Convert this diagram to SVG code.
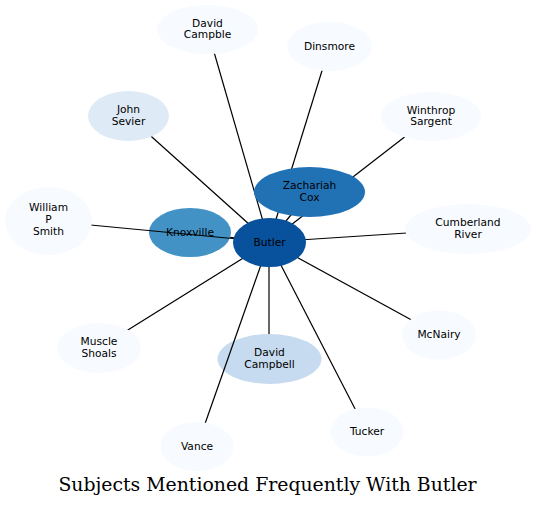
<svg xmlns="http://www.w3.org/2000/svg" width="536" height="507" viewBox="0 0 536 507">
<style>
.n text{font-family:"DejaVu Sans","Liberation Sans",sans-serif;font-size:10.67px;fill:#000;text-anchor:middle}
.e line{stroke:#000;stroke-width:1.2}
.title{font-family:"DejaVu Serif","Liberation Serif",serif;font-size:18.85px;fill:#000;text-anchor:middle}
.c0{fill:#f7fbff}.c1{fill:#deebf7}.c2{fill:#c6dbef}.c3{fill:#4292c6}.c4{fill:#2171b5}.c5{fill:#08519c}
</style>
<rect width="536" height="507" fill="#fff"/>
<g id="node-knoxville" class="n"><ellipse class="c3" cx="190" cy="232.5" rx="41" ry="24.5"/><text x="190" y="236">Knoxville</text></g>
<g id="node-david-campbell" class="n"><ellipse class="c2" cx="269.5" cy="359" rx="52" ry="25"/><text x="269.5" y="356">David</text><text x="269.5" y="367.8">Campbell</text></g>
<g id="connectors" class="e">
<line x1="269" y1="242" x2="207.5" y2="29.5"/>
<line x1="269" y1="242" x2="329.5" y2="46.5"/>
<line x1="269" y1="242" x2="128.5" y2="116"/>
<line x1="269" y1="242" x2="431" y2="116.5"/>
<line x1="269" y1="242" x2="309.5" y2="192"/>
<line x1="269" y1="242" x2="48.5" y2="221"/>
<line x1="269" y1="242" x2="230.2" y2="237.3"/>
<line x1="269" y1="242" x2="468" y2="229"/>
<line x1="269" y1="242" x2="439" y2="335"/>
<line x1="269" y1="242" x2="99" y2="348"/>
<line x1="269" y1="242" x2="269" y2="334"/>
<line x1="269" y1="242" x2="367" y2="432"/>
<line x1="269" y1="242" x2="197" y2="446.5"/>
</g>
<g id="node-david-campble" class="n"><ellipse class="c0" cx="207.5" cy="29.5" rx="50.5" ry="24.5"/><text x="207.5" y="26.5">David</text><text x="207.5" y="38.3">Campble</text></g>
<g id="node-dinsmore" class="n"><ellipse class="c0" cx="329.5" cy="46.5" rx="42.5" ry="24.5"/><text x="329.5" y="49.5">Dinsmore</text></g>
<g id="node-john-sevier" class="n"><ellipse class="c1" cx="128.5" cy="116" rx="40.5" ry="25"/><text x="128.5" y="113">John</text><text x="128.5" y="124.8">Sevier</text></g>
<g id="node-winthrop-sargent" class="n"><ellipse class="c0" cx="431" cy="116.5" rx="50" ry="24.5"/><text x="431" y="113.5">Winthrop</text><text x="431" y="125.3">Sargent</text></g>
<g id="node-zachariah-cox" class="n"><ellipse class="c4" cx="309.5" cy="192" rx="55.5" ry="25"/><text x="309.5" y="189.2">Zachariah</text><text x="309.5" y="200.8">Cox</text></g>
<g id="node-william-p-smith" class="n"><ellipse class="c0" cx="48.5" cy="221" rx="43.5" ry="34"/><text x="48.5" y="211.3">William</text><text x="48.5" y="223">P</text><text x="48.5" y="234.7">Smith</text></g>
<g id="node-cumberland-river" class="n"><ellipse class="c0" cx="468" cy="229" rx="63" ry="25"/><text x="468" y="226">Cumberland</text><text x="468" y="237.8">River</text></g>
<g id="node-butler" class="n"><ellipse class="c5" cx="269.5" cy="242.5" rx="36.5" ry="24.5"/><text x="269.5" y="245.5">Butler</text></g>
<g id="node-mcnairy" class="n"><ellipse class="c0" cx="439" cy="335" rx="37" ry="24.5"/><text x="439" y="338">McNairy</text></g>
<g id="node-muscle-shoals" class="n"><ellipse class="c0" cx="99" cy="348" rx="42" ry="25"/><text x="99" y="345">Muscle</text><text x="99" y="356.8">Shoals</text></g>
<g id="node-tucker" class="n"><ellipse class="c0" cx="367" cy="432" rx="36.5" ry="24.5"/><text x="367" y="435">Tucker</text></g>
<g id="node-vance" class="n"><ellipse class="c0" cx="197" cy="446.5" rx="36.5" ry="24.5"/><text x="197" y="449.5">Vance</text></g>
<text class="title" x="267.5" y="491">Subjects Mentioned Frequently With Butler</text>
</svg>
